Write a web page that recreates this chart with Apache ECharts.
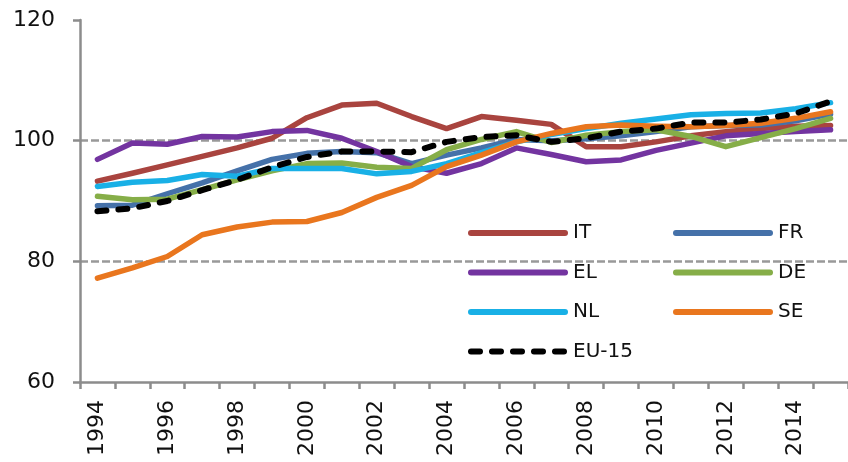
<!DOCTYPE html>
<html>
<head>
<meta charset="utf-8">
<script src="https://cdn.jsdelivr.net/npm/echarts@6/dist/echarts.min.js"></script>
<style>
  html, body { margin: 0; padding: 0; background: #fff; }
  #chart { width: 848px; height: 462px; }
</style>
</head>
<body>
<div id="chart"></div>
<script>
var years = ['1994','1995','1996','1997','1998','1999','2000','2001','2002','2003','2004',
             '2005','2006','2007','2008','2009','2010','2011','2012','2013','2014','2015'];

var IT   = [93.3, 94.6, 96.0, 97.4, 98.8, 100.4, 103.8, 105.9, 106.2, 104.0, 102.0, 104.0, 103.4, 102.7, 99.0, 99.0, 99.8, 100.8, 101.5, 102.0, 102.4, 102.5];
var FR   = [89.2, 89.3, 91.2, 93.0, 95.0, 96.9, 97.9, 98.2, 98.0, 96.2, 97.6, 98.8, 100.2, 100.0, 100.3, 100.8, 101.5, 102.3, 102.5, 102.6, 103.3, 104.4];
var EL   = [96.9, 99.6, 99.4, 100.7, 100.6, 101.5, 101.7, 100.4, 98.2, 95.7, 94.6, 96.2, 98.8, 97.7, 96.5, 96.8, 98.4, 99.6, 100.8, 101.2, 101.5, 101.8];
var DE   = [90.8, 90.2, 90.3, 91.9, 93.5, 95.0, 96.2, 96.3, 95.6, 95.4, 98.5, 100.2, 101.5, 99.7, 100.9, 101.5, 101.8, 100.7, 99.0, 100.5, 102.0, 103.7];
var NL   = [92.4, 93.1, 93.4, 94.4, 94.1, 95.4, 95.4, 95.4, 94.5, 94.9, 96.2, 98.0, 99.8, 101.0, 102.0, 102.9, 103.6, 104.3, 104.5, 104.6, 105.3, 106.3];
var SE   = [77.2, 78.9, 80.8, 84.4, 85.7, 86.5, 86.6, 88.1, 90.6, 92.6, 95.7, 97.6, 99.8, 101.2, 102.3, 102.6, 102.4, 102.3, 102.5, 102.9, 103.7, 104.8];
var EU15 = [88.3, 88.8, 90.0, 91.8, 93.5, 95.6, 97.3, 98.2, 98.2, 98.1, 99.8, 100.6, 100.9, 99.8, 100.4, 101.5, 102.0, 103.0, 103.0, 103.5, 104.5, 106.5];

var yTicks = [60, 80, 100, 120];

var font = 'DejaVu Sans';

function line(name, data, color, dashed) {
    return {
        name: name,
        type: 'line',
        data: data,
        symbol: 'none',
        smooth: false,
        z: dashed ? 5 : 3,
        lineStyle: {
            color: color,
            width: dashed ? 6 : 5.5,
            type: dashed ? [9, 12] : 'solid',
            cap: 'round',
            join: 'round'
        },
        itemStyle: { color: color }
    };
}

var legendCommon = {
    orient: 'vertical',
    itemWidth: 94,
    itemHeight: 20,
    itemGap: 19.5,
    itemStyle: { opacity: 0 },
    lineStyle: { width: 6 },
    textStyle: { fontFamily: font, fontSize: 20, color: '#111', lineHeight: 20, padding: [0, 0, 0, 3] }
};

var chart = echarts.init(document.getElementById('chart'));
var option = {
    animation: false,
    grid: { left: 80, top: 20, bottom: 80, right: -9 },
    legend: [
        Object.assign({ left: 463, top: 218, data: ['IT', 'EL', 'NL', 'EU-15'] }, legendCommon),
        Object.assign({ left: 668, top: 218, data: ['FR', 'DE', 'SE'] }, legendCommon)
    ],
    xAxis: {
        type: 'category',
        data: years,
        boundaryGap: true,
        axisLine: { lineStyle: { color: '#8c8c8c', width: 2.5 } },
        axisTick: { show: true, interval: 0, length: 7, lineStyle: { color: '#8c8c8c', width: 2.5 } },
        axisLabel: { interval: 1, rotate: 90, margin: 18, fontFamily: font, fontSize: 22, color: '#111' },
        splitLine: { show: false }
    },
    yAxis: {
        type: 'value',
        min: yTicks[0],
        max: yTicks[yTicks.length - 1],
        interval: 20,
        axisLine: { show: true, lineStyle: { color: '#8c8c8c', width: 2.5 } },
        axisTick: { show: true, length: 7, lineStyle: { color: '#8c8c8c', width: 2.5 } },
        axisLabel: { margin: 25, fontFamily: font, fontSize: 22, color: '#111' },
        splitLine: {
            show: true,
            lineStyle: {
                color: ['rgba(0,0,0,0)', '#999', '#999', 'rgba(0,0,0,0)'],
                width: 2.5,
                type: [8, 3]
            }
        }
    },
    series: [
        line('IT', IT, '#A9443F'),
        line('FR', FR, '#4571A9'),
        line('EL', EL, '#7334A0'),
        line('DE', DE, '#86AE48'),
        line('NL', NL, '#19B0E6'),
        line('SE', SE, '#E9761E'),
        line('EU-15', EU15, '#000000', true)
    ]
};
chart.setOption(option);
</script>
</body>
</html>
